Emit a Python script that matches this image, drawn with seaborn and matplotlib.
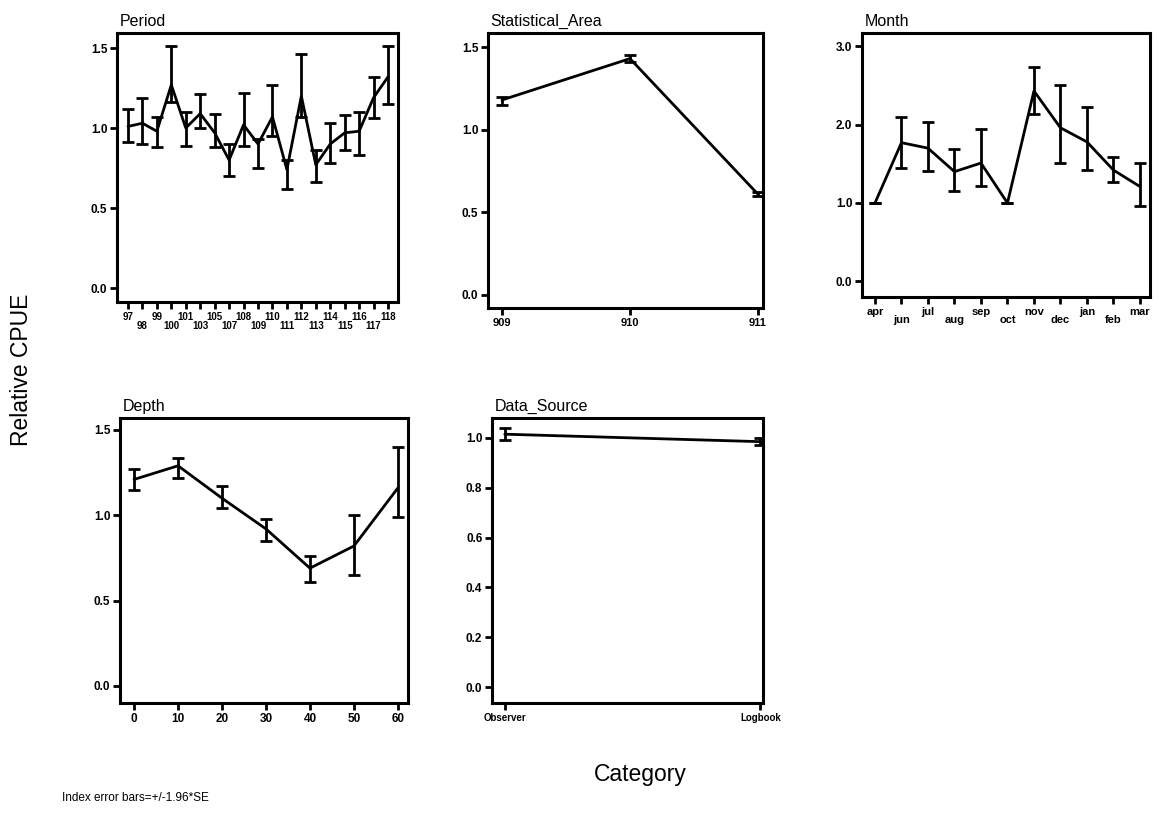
import numpy as np
import matplotlib
matplotlib.use("Agg")
import matplotlib.pyplot as plt
import seaborn as sns
import pandas as pd

# ---------------- data ----------------
period_cats = ["97", "98", "99", "100", "101", "103", "105", "107", "108", "109",
               "110", "111", "112", "113", "114", "115", "116", "117", "118"]
period_val = [1.01, 1.03, 0.98, 1.27, 1.00, 1.09, 0.97, 0.80, 1.02, 0.90,
              1.07, 0.74, 1.20, 0.77, 0.90, 0.97, 0.98, 1.19, 1.32]
period_lo = [0.91, 0.90, 0.88, 1.16, 0.89, 1.00, 0.88, 0.70, 0.89, 0.75,
             0.95, 0.62, 1.07, 0.66, 0.78, 0.86, 0.83, 1.06, 1.15]
period_hi = [1.12, 1.19, 1.07, 1.51, 1.10, 1.21, 1.09, 0.90, 1.22, 0.93,
             1.27, 0.80, 1.46, 0.86, 1.03, 1.08, 1.10, 1.32, 1.51]

area_cats = ["909", "910", "911"]
area_val = [1.18, 1.43, 0.61]
area_lo = [1.15, 1.41, 0.60]
area_hi = [1.20, 1.45, 0.62]

month_cats = ["apr", "jun", "jul", "aug", "sep", "oct", "nov", "dec", "jan", "feb", "mar"]
month_val = [1.00, 1.77, 1.70, 1.40, 1.51, 1.00, 2.43, 1.96, 1.78, 1.42, 1.21]
month_lo = [1.00, 1.45, 1.41, 1.15, 1.22, 1.00, 2.13, 1.51, 1.42, 1.27, 0.96]
month_hi = [1.00, 2.10, 2.03, 1.69, 1.94, 1.00, 2.74, 2.51, 2.23, 1.59, 1.51]

depth_x = [0, 10, 20, 30, 40, 50, 60]
depth_val = [1.21, 1.29, 1.10, 0.92, 0.69, 0.82, 1.16]
depth_lo = [1.15, 1.22, 1.045, 0.85, 0.61, 0.65, 0.99]
depth_hi = [1.27, 1.335, 1.17, 0.98, 0.76, 1.00, 1.40]

source_cats = ["Observer", "Logbook"]
source_val = [1.015, 0.985]
source_lo = [0.99, 0.97]
source_hi = [1.04, 1.00]

# ---------------- style ----------------
sns.set_theme(style="white")
plt.rcParams['font.family'] = ['Liberation Sans', 'DejaVu Sans']
plt.rcParams['text.color'] = 'black'
plt.rcParams['axes.labelcolor'] = 'black'
plt.rcParams['axes.titlecolor'] = 'black'
plt.rcParams['xtick.color'] = 'black'
plt.rcParams['ytick.color'] = 'black'

W, H = 1159, 825
fig = plt.figure(figsize=(W / 100, H / 100), dpi=100)


def make_ax(left, right, top, bottom):
    return fig.add_axes([left / W, 1 - bottom / H, (right - left) / W, (bottom - top) / H])


def style_ax(ax, title, xlim, ylim, yticks, yfmt):
    ax.set_xlim(*xlim)
    ax.set_ylim(*ylim)
    ax.set_yticks(yticks)
    ax.set_yticklabels([yfmt.format(v) for v in yticks], fontsize=8.5, fontweight="bold")
    for s in ax.spines.values():
        s.set_linewidth(2.2)
        s.set_color("black")
    ax.tick_params(axis="both", direction="out", length=5, width=2, color="black",
                   bottom=True, left=True, top=False, right=False, pad=2)
    ax.set_xlabel("")
    ax.set_ylabel("")
    ax.set_title(title, loc="left", fontsize=11.5, pad=5, x=0.01, color="black")
    ax.grid(False)


def draw(ax, x, val, lo, hi):
    df = pd.DataFrame({"x": x, "y": val})
    sns.lineplot(data=df, x="x", y="y", ax=ax, color="black", linewidth=2.0,
                 sort=False, legend=False)
    val = np.asarray(val)
    yerr = np.vstack([val - np.asarray(lo), np.asarray(hi) - val])
    ax.errorbar(x, val, yerr=yerr, fmt="none", ecolor="black", elinewidth=2.0,
                capsize=4, capthick=2.0)


def two_row(labels):
    return [l if i % 2 == 0 else "\n" + l for i, l in enumerate(labels)]


# Period
ax1 = make_ax(117, 398, 33, 302)
xp = np.arange(len(period_cats))
draw(ax1, xp, period_val, period_lo, period_hi)
style_ax(ax1, "Period", (-0.76, 18.69), (-0.0875, 1.594), [0.0, 0.5, 1.0, 1.5], "{:.1f}")
ax1.set_xticks(xp)
ax1.set_xticklabels(two_row(period_cats), fontsize=7, fontweight="bold", linespacing=0.95)

# Statistical Area
ax2 = make_ax(488, 763, 33, 308)
xa = np.arange(len(area_cats))
draw(ax2, xa, area_val, area_lo, area_hi)
style_ax(ax2, "Statistical_Area", (-0.11, 2.04), (-0.079, 1.585), [0.0, 0.5, 1.0, 1.5], "{:.1f}")
ax2.set_xticks(xa)
ax2.set_xticklabels(area_cats, fontsize=8, fontweight="bold")

# Month
ax3 = make_ax(862, 1150, 33, 297)
xm = np.arange(len(month_cats))
draw(ax3, xm, month_val, month_lo, month_hi)
style_ax(ax3, "Month", (-0.49, 10.38), (-0.2, 3.17), [0.0, 1.0, 2.0, 3.0], "{:.1f}")
ax3.set_xticks(xm)
ax3.set_xticklabels(two_row(month_cats), fontsize=8, fontweight="bold", linespacing=0.8)

# Depth
ax4 = make_ax(120, 408, 418, 703)
draw(ax4, np.asarray(depth_x), depth_val, depth_lo, depth_hi)
style_ax(ax4, "Depth", (-3.2, 62.3), (-0.1, 1.57), [0.0, 0.5, 1.0, 1.5], "{:.1f}")
ax4.set_xticks(depth_x)
ax4.set_xticklabels([str(v) for v in depth_x], fontsize=8.5, fontweight="bold")

# Data Source
ax5 = make_ax(492, 763, 418, 703)
xs = np.arange(len(source_cats))
draw(ax5, xs, source_val, source_lo, source_hi)
style_ax(ax5, "Data_Source", (-0.05, 1.01), (-0.064, 1.08), [0.0, 0.2, 0.4, 0.6, 0.8, 1.0], "{:.1f}")
ax5.set_xticks(xs)
ax5.set_xticklabels(source_cats, fontsize=7, fontweight="bold")

# Figure labels
fig.text(22 / W, 1 - 370 / H, "Relative CPUE", rotation=90, ha="center", va="center",
         fontsize=16.5, color="black")
fig.text(640 / W, 1 - 775 / H, "Category", ha="center", va="center", fontsize=16.5, color="black")
fig.text(62 / W, 1 - 798 / H, "Index error bars=+/-1.96*SE", ha="left", va="center",
         fontsize=8.5, color="black")

fig.savefig("out.png", dpi=100, facecolor="white")
